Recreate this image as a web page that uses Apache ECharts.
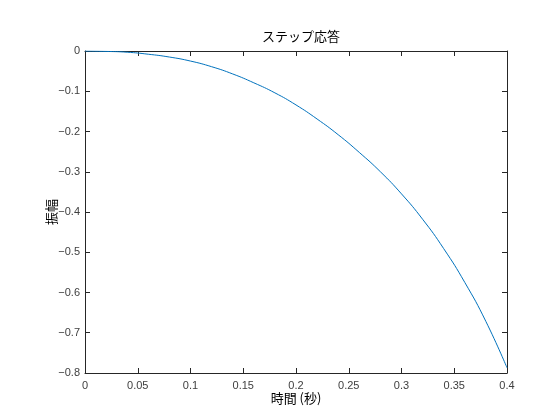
<!DOCTYPE html>
<html>
<head>
<meta charset="utf-8">
<script src="https://cdn.jsdelivr.net/npm/echarts@6/dist/echarts.min.js"></script>
<style>html,body{margin:0;padding:0;background:#fff;}#c{width:560px;height:420px;}</style>
</head>
<body>
<div id="c"></div>
<script>
const titleText = 'ステップ応答';
const xName = '時間 (秒)';
const yName = '振幅';
const timeValues = [0, 0.02, 0.04, 0.06, 0.08, 0.10, 0.12, 0.14, 0.16, 0.18, 0.20, 0.22, 0.24, 0.26, 0.28, 0.30, 0.32, 0.34, 0.36, 0.38, 0.40];
const amplitudeValues = [0, -0.001, -0.003, -0.008, -0.015, -0.025, -0.039, -0.057, -0.079, -0.104, -0.134, -0.169, -0.208, -0.252, -0.300, -0.355, -0.418, -0.491, -0.575, -0.672, -0.787];

const axisColor = '#262626';
const labelColor = '#404040';
const fmt = v => String(+v.toFixed(3)).replace('-', '\u2212');

const chart = echarts.init(document.getElementById('c'), null, {renderer: 'canvas'});
const tickStyle = {show: true, inside: true, length: 5, lineStyle: {color: axisColor, width: 1}};
const lineStyle = {show: true, onZero: false, lineStyle: {color: axisColor, width: 1}};
chart.setOption({
  animation: false,
  backgroundColor: '#fff',
  title: {
    text: titleText, left: 296, top: 25, textAlign: 'center',
    textStyle: {fontFamily: 'Noto Sans CJK JP', fontSize: 13, fontWeight: 'normal', color: '#000'}
  },
  grid: {left: 85, right: 53, top: 51, bottom: 47},
  xAxis: [{
    type: 'value', min: 0, max: 0.4, interval: 0.05, position: 'bottom',
    name: xName, nameLocation: 'middle', nameGap: 19, nameMoveOverlap: false,
    nameTextStyle: {fontFamily: 'Noto Sans CJK JP', fontSize: 13, color: '#000'},
    axisLine: lineStyle, axisTick: tickStyle, splitLine: {show: false},
    axisLabel: {color: labelColor, fontFamily: 'Liberation Sans', fontSize: 11, margin: 7, formatter: fmt}
  }, {
    type: 'value', min: 0, max: 0.4, interval: 0.05, position: 'top',
    axisLine: lineStyle, axisTick: tickStyle, splitLine: {show: false}, axisLabel: {show: false}
  }],
  yAxis: [{
    type: 'value', min: -0.8, max: 0, interval: 0.1, position: 'left',
    name: yName, nameLocation: 'middle', nameGap: 27, nameRotate: 90, nameMoveOverlap: false,
    nameTextStyle: {fontFamily: 'Noto Sans CJK JP', fontSize: 13, color: '#000'},
    axisLine: lineStyle, axisTick: tickStyle, splitLine: {show: false},
    axisLabel: {color: labelColor, fontFamily: 'Liberation Sans', fontSize: 11, margin: 5, formatter: fmt}
  }, {
    type: 'value', min: -0.8, max: 0, interval: 0.1, position: 'right',
    axisLine: lineStyle, axisTick: tickStyle, splitLine: {show: false}, axisLabel: {show: false}
  }],
  series: [{
    type: 'line', smooth: true, showSymbol: false,
    data: timeValues.map((t, i) => [t, amplitudeValues[i]]),
    lineStyle: {color: '#0072BD', width: 1}
  }]
});
</script>
</body>
</html>
